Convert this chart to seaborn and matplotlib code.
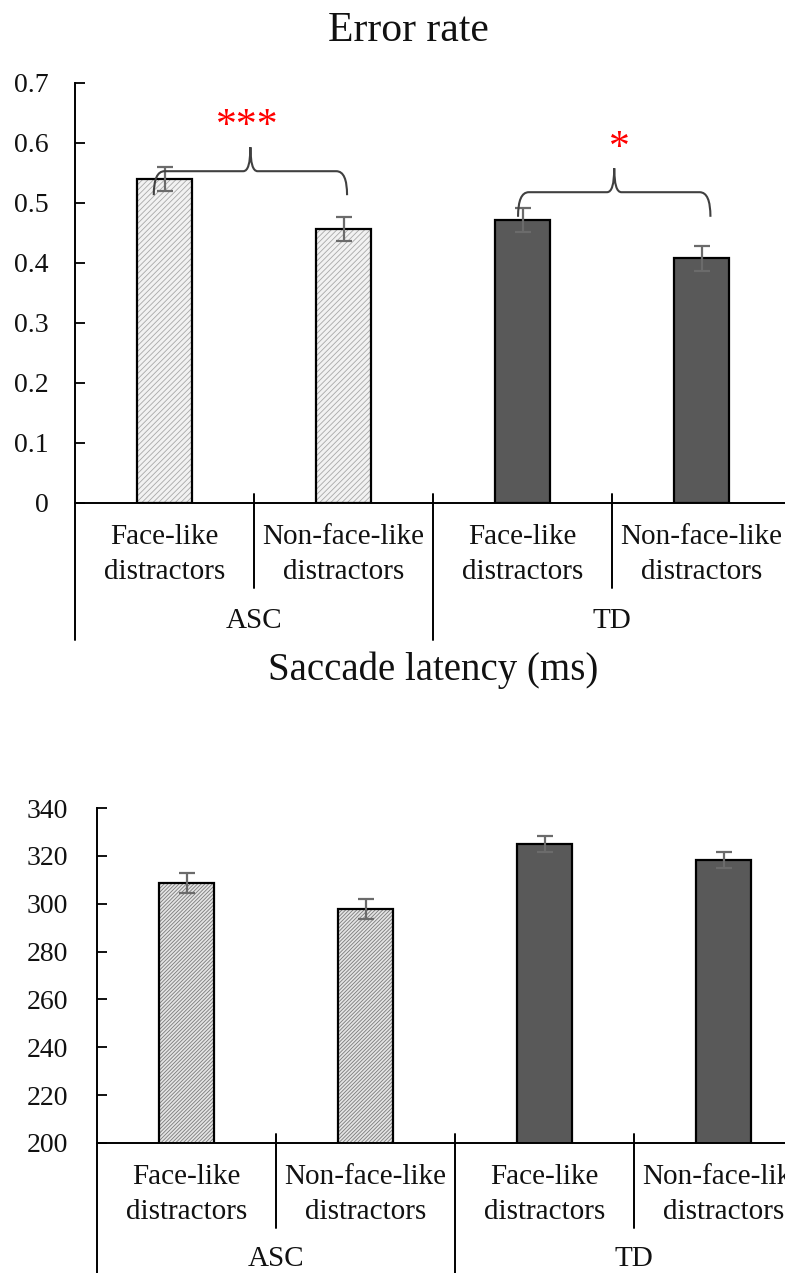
import matplotlib
matplotlib.use("Agg")
import matplotlib.pyplot as plt
import matplotlib.transforms as mtransforms
from matplotlib.patches import Rectangle, PathPatch
from matplotlib.path import Path
import pandas as pd
import seaborn as sns

# ---- data ----
group_names = ["ASC", "TD"]
condition_labels = ["Face-like\ndistractors", "Non-face-like\ndistractors"]

error_rate = [0.540, 0.457, 0.472, 0.408]
error_rate_se = [0.020, 0.020, 0.020, 0.021]

latency = [308.6, 297.8, 325.0, 318.3]
latency_se = [4.2, 4.2, 3.3, 3.3]

error_ticks = [0, 0.1, 0.2, 0.3, 0.4, 0.5, 0.6, 0.7]
error_tick_labels = ["0", "0.1", "0.2", "0.3", "0.4", "0.5", "0.6", "0.7"]
latency_ticks = [200, 220, 240, 260, 280, 300, 320, 340]

sns.set_theme(style="white")
plt.rcParams['font.family'] = ['Liberation Serif', 'DejaVu Serif']
plt.rcParams['hatch.linewidth'] = 0.6

W, H = 785, 1273
fig = plt.figure(figsize=(W / 100, H / 100), dpi=100)


def make_frame(values):
    rows = []
    for i, v in enumerate(values):
        g = group_names[i // 2]
        c = condition_labels[i % 2]
        rows.append({"bar": f"{g}|{c}", "group": g, "cond": c, "value": v})
    return pd.DataFrame(rows)


def draw_brace(ax, x0, x1, y_low, y_mid, y_peak, dx=0.06, dxp=0.04):
    xm = (x0 + x1) / 2
    verts = [(x0, y_low), (x0, y_mid), (x0 + dx, y_mid),
             (xm - dxp, y_mid), (xm, y_mid), (xm, y_peak),
             (xm, y_mid), (xm + dxp, y_mid),
             (x1 - dx, y_mid), (x1, y_mid), (x1, y_low)]
    codes = [Path.MOVETO, Path.CURVE3, Path.CURVE3,
             Path.LINETO, Path.CURVE3, Path.CURVE3,
             Path.CURVE3, Path.CURVE3,
             Path.LINETO, Path.CURVE3, Path.CURVE3]
    ax.add_patch(PathPatch(Path(verts, codes), fill=False, edgecolor="#404040",
                           lw=1.5, zorder=5, clip_on=False))


def draw_panel(rect, values, se, ylim, ticks, tick_labels, asc_fill, asc_hatch,
               hatch, ypad, below_px, group_px, cat_label_px):
    ax = fig.add_axes(rect)
    df = make_frame(values)
    sns.barplot(data=df, x="bar", y="value", hue="group", palette={"ASC": asc_fill, "TD": "#595959"},
                width=0.31, legend=False, ax=ax, errorbar=None, saturation=1)
    for i, p in enumerate(ax.patches[:4]):
        if i < 2:
            p.set_facecolor(asc_fill)
            p.set_hatch(hatch)
            p.set_edgecolor(asc_hatch)
            p.set_linewidth(0)
            ax.add_patch(Rectangle(p.get_xy(), p.get_width(), p.get_height(), fill=False,
                                   edgecolor="black", lw=1.6, zorder=p.get_zorder() + 0.1))
        else:
            p.set_edgecolor("black")
            p.set_linewidth(1.6)
    pos = list(range(len(values)))
    ax.errorbar(pos, values, yerr=se, fmt="none", ecolor="#6b6b6b", elinewidth=1.6,
                capsize=6, capthick=1.6, zorder=4)

    ax.set_xlim(-0.5, 3.5)
    ax.set_ylim(*ylim)
    ax.set_yticks(ticks)
    ax.set_yticklabels(tick_labels)
    ax.set_xticks(pos)
    ax.set_xticklabels([condition_labels[i % 2] for i in pos], linespacing=1.45)
    ax.set_xlabel("")
    ax.set_ylabel("")
    ax.tick_params(axis="x", length=0, pad=15, labelsize=21, colors="#111111")
    ax.tick_params(axis="y", direction="in", length=7, width=1.4, pad=ypad, labelsize=20,
                   colors="#111111", left=True)
    for s in ["top", "right"]:
        ax.spines[s].set_visible(False)
    for s in ["left", "bottom"]:
        ax.spines[s].set_color("black")
        ax.spines[s].set_linewidth(1.4)

    # multi-level category axis lines
    ax_h = rect[3] * H
    tr = mtransforms.blended_transform_factory(ax.transData, ax.transAxes)
    up = 9 / ax_h
    ax.plot([-0.5, -0.5], [0, -below_px / ax_h], transform=tr, color="black", lw=1.4, clip_on=False)
    for xd in [0.5, 2.5]:
        ax.plot([xd, xd], [up, -cat_label_px / ax_h], transform=tr, color="black", lw=1.4, clip_on=False)
    ax.plot([1.5, 1.5], [up, -below_px / ax_h], transform=tr, color="black", lw=1.4, clip_on=False)
    for gi, g in enumerate(group_names):
        ax.text(gi * 2 + 0.5, -group_px / ax_h, g, transform=tr, ha="center", va="center",
                fontsize=21, color="#111111")
    return ax


# ---- top panel: error rate ----
ax1 = draw_panel([75 / W, 1 - 503 / H, 716 / W, 420 / H], error_rate, error_rate_se,
                 (0, 0.7), error_ticks, error_tick_labels, "#f2f2f2", "#a8a8a8", "//////",
                 ypad=19, below_px=137, group_px=118, cat_label_px=85)
draw_brace(ax1, -0.06, 1.02, 0.513, 0.553, 0.593)
draw_brace(ax1, 1.975, 3.05, 0.477, 0.518, 0.558)
ax1.text(0.46, 0.627, "***", ha="center", va="center", fontsize=30, color="red")
ax1.text(2.54, 0.590, "*", ha="center", va="center", fontsize=30, color="red")

# ---- bottom panel: saccade latency ----
ax2 = draw_panel([97 / W, 1 - 1143 / H, 716 / W, 335 / H], latency, latency_se,
                 (200, 340), latency_ticks, [str(t) for t in latency_ticks], "#e4e4e4", "#7a7a7a",
                 "/////////", ypad=21, below_px=140, group_px=116, cat_label_px=85)

fig.text(408 / W, 1 - 31 / H, "Error rate", ha="center", va="center", fontsize=30, color="#111111")
fig.text(433 / W, 1 - 670 / H, "Saccade latency (ms)", ha="center", va="center", fontsize=28,
         color="#111111")

fig.savefig("out.png", dpi=100)
